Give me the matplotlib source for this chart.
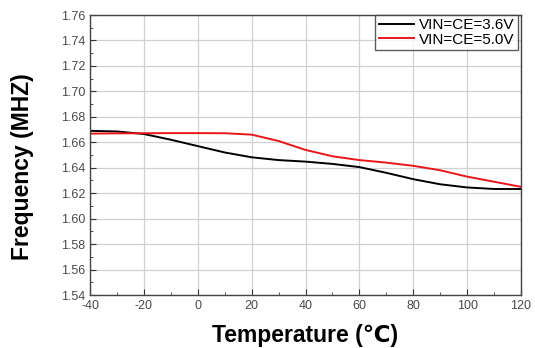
import matplotlib
matplotlib.use("Agg")
import matplotlib.pyplot as plt
from matplotlib.ticker import MultipleLocator, FuncFormatter

temperature = [-40, -30, -20, -10, 0, 10, 20, 30, 40, 50, 60, 70, 80, 90, 100, 110, 120]
freq_36v = [1.669, 1.6685, 1.6665, 1.662, 1.657, 1.652, 1.6482, 1.646, 1.6448, 1.643,
            1.6405, 1.636, 1.631, 1.627, 1.6245, 1.6233, 1.6233]
freq_50v = [1.6668, 1.667, 1.6671, 1.6672, 1.6672, 1.6671, 1.666, 1.661, 1.654, 1.649,
            1.646, 1.644, 1.6415, 1.638, 1.633, 1.629, 1.625]
series_labels = ["VIN=CE=3.6V", "VIN=CE=5.0V"]

plt.rcParams['font.family'] = ['Liberation Sans', 'DejaVu Sans']
plt.rcParams['axes.unicode_minus'] = False

fig = plt.figure(figsize=(5.35, 3.48), dpi=100)
ax = fig.add_axes([90 / 535, 1 - 295 / 348, 431 / 535, 280 / 348])

ax.plot(temperature, freq_36v, color='black', lw=1.4, label=series_labels[0])
ax.plot(temperature, freq_50v, color='#e8161b', lw=1.4, label=series_labels[1])

ax.set_xlim(-40, 120)
ax.set_ylim(1.54, 1.76)
ax.xaxis.set_major_locator(MultipleLocator(20))
ax.xaxis.set_minor_locator(MultipleLocator(10))
ax.yaxis.set_major_locator(MultipleLocator(0.02))
ax.yaxis.set_minor_locator(MultipleLocator(0.01))
ax.xaxis.set_major_formatter(FuncFormatter(lambda v, p: f"{v:.0f}"))
ax.yaxis.set_major_formatter(FuncFormatter(lambda v, p: f"{v:.2f}"))

ax.grid(True, which='major', color='#d0d0d0', lw=0.9)
ax.set_axisbelow(True)
ax.tick_params(which='both', direction='in', colors='#333333', labelsize=9,
               labelcolor='#4a4a4a')
ax.tick_params(which='major', length=4)
ax.tick_params(which='minor', length=2.5)
for s in ax.spines.values():
    s.set_color('#444444')
    s.set_linewidth(1.0)

ax.set_xlabel("Temperature (℃)", fontsize=16.5, fontweight='bold')
ax.set_ylabel("Frequency (MHZ)", fontsize=16.5, fontweight='bold')
ax.xaxis.set_label_coords(0.5, -0.105)
ax.yaxis.set_label_coords(-0.13, 0.46)

leg = ax.legend(loc='upper right', fontsize=11, frameon=True, fancybox=False,
                borderaxespad=0.0, handlelength=2.3, borderpad=0.2,
                labelspacing=0.05, handletextpad=0.35, bbox_to_anchor=(0.992, 1.0))
leg.get_frame().set_edgecolor('#333333')
leg.get_frame().set_linewidth(1.0)

fig.savefig("out.png", dpi=100, facecolor='white')
